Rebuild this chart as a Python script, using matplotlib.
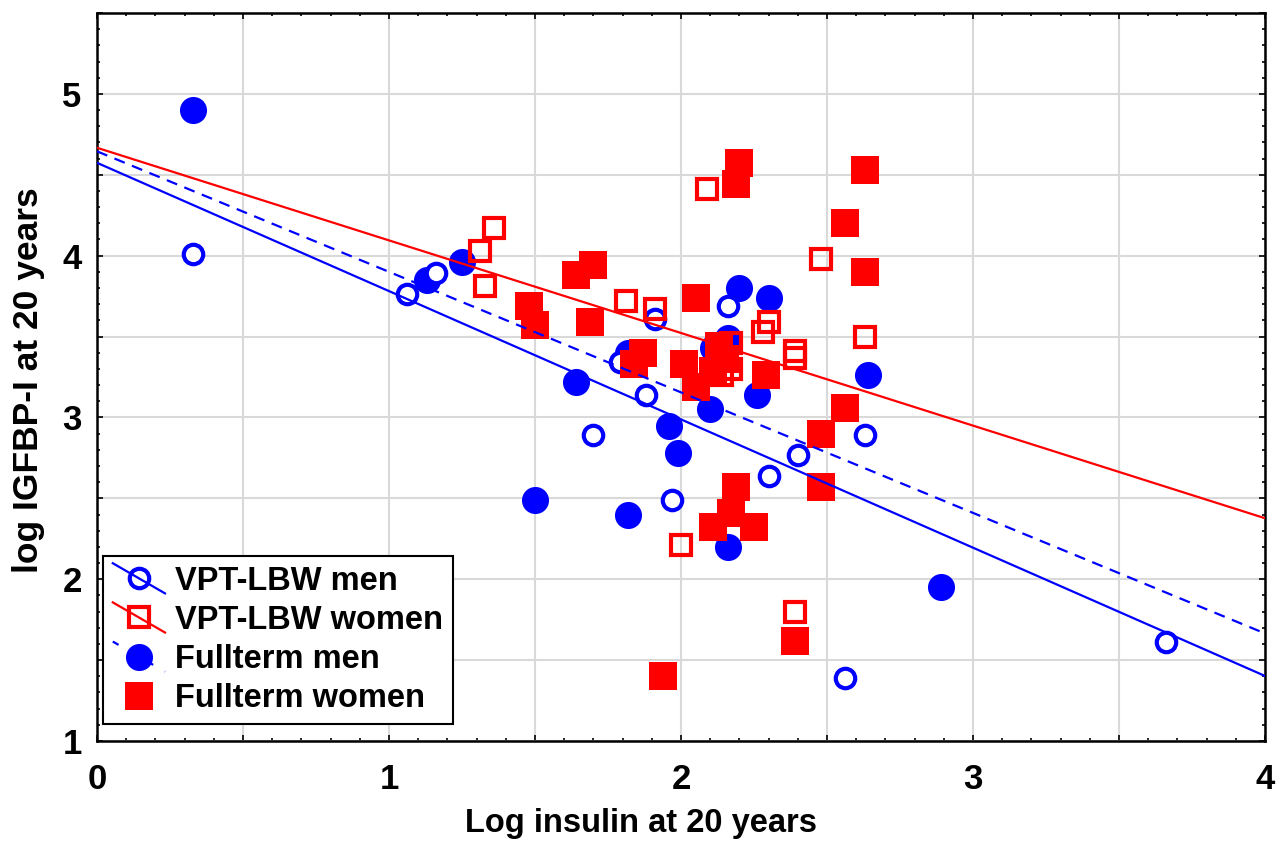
import matplotlib
matplotlib.use('Agg')
import matplotlib.pyplot as plt
from matplotlib.lines import Line2D
from matplotlib.legend_handler import HandlerLine2D
from matplotlib.ticker import MultipleLocator, FuncFormatter
import numpy as np

plt.rcParams['font.family'] = ['Liberation Sans', 'DejaVu Sans']
plt.rcParams['font.weight'] = 'bold'

BLUE = '#0000ff'
RED = '#ff0000'

# VPT-LBW men (open circles)
vpt_men_x = [0.33, 1.06, 1.16, 1.91, 2.16, 1.70, 1.88, 1.97, 2.30, 2.40, 2.63, 2.56, 3.66, 1.79]
vpt_men_y = [4.01, 3.76, 3.89, 3.61, 3.69, 2.89, 3.14, 2.49, 2.64, 2.77, 2.89, 1.39, 1.61, 3.34]

# VPT-LBW women (open squares)
vpt_women_x = [1.31, 1.36, 1.33, 1.81, 1.91, 2.09, 2.48, 2.63, 2.30, 2.28, 2.39, 2.39,
               2.17, 2.17, 2.14, 2.00, 2.39]
vpt_women_y = [4.03, 4.17, 3.81, 3.72, 3.67, 4.41, 3.98, 3.50, 3.59, 3.53, 3.41, 3.37,
               3.46, 3.30, 3.26, 2.21, 1.80]

# Fullterm men (filled circles)
full_men_x = [0.33, 1.13, 1.25, 1.64, 1.50, 1.82, 1.96, 1.99, 2.10, 2.16, 2.20, 2.30,
              2.26, 2.64, 2.89, 1.82, 2.11, 2.16]
full_men_y = [4.90, 3.85, 3.96, 3.22, 2.49, 2.40, 2.95, 2.78, 3.05, 2.20, 3.80, 3.74,
              3.14, 3.26, 1.95, 3.40, 3.43, 3.49]

# Fullterm women (filled squares)
full_women_x = [1.48, 1.50, 1.64, 1.70, 1.69, 2.05, 2.20, 2.19, 2.63, 2.56, 2.63, 1.87,
                1.84, 2.01, 2.05, 2.13, 2.15, 2.11, 2.29, 2.48, 2.56, 2.48, 2.19, 2.17,
                2.11, 2.25, 1.94, 2.39]
full_women_y = [3.69, 3.57, 3.88, 3.94, 3.59, 3.74, 4.57, 4.44, 4.53, 4.20, 3.90, 3.40,
                3.33, 3.33, 3.19, 3.44, 3.36, 3.29, 3.26, 2.90, 3.06, 2.57, 2.57, 2.41,
                2.32, 2.32, 1.40, 1.62]

# regression lines (intercept, slope)
fit_vpt_men = (4.574, -0.793)
fit_vpt_women = (4.667, -0.5725)
fit_full_men = (4.645, -0.745)

x_range = [0, 4]

labels = ['VPT-LBW men', 'VPT-LBW women', 'Fullterm men', 'Fullterm women']


class DiagonalHandler(HandlerLine2D):
    """Legend handle with the fit line drawn diagonally through the marker"""

    def create_artists(self, legend, orig_handle, xdescent, ydescent,
                       width, height, fontsize, trans):
        x0 = -xdescent
        x1 = -xdescent + width
        yc = -ydescent + height / 2
        half = height * 0.66
        line = Line2D([x0, x1], [yc + half, yc - half])
        self.update_prop(line, orig_handle, legend)
        line.set_marker('None')
        mark = Line2D([(x0 + x1) / 2], [yc])
        self.update_prop(mark, orig_handle, legend)
        mark.set_linestyle('None')
        line.set_transform(trans)
        mark.set_transform(trans)
        return [line, mark]


fig = plt.figure(figsize=(12.76, 8.44), dpi=100)
ax = fig.add_axes([97 / 1276, 1 - 741 / 844, (1265 - 97) / 1276, (741 - 13) / 844])

ax.plot(full_men_x, full_men_y, 'o', color=BLUE, ms=19.5, mew=0, zorder=3)
ax.plot(vpt_men_x, vpt_men_y, 'o', mfc='white', mec=BLUE, ms=14, mew=3, zorder=4)
ax.plot(full_women_x, full_women_y, 's', color=RED, ms=19.5, mew=0, zorder=5)
ax.plot(vpt_women_x, vpt_women_y, 's', mfc='none', mec=RED, ms=14, mew=3, zorder=6)

xs = np.array(x_range)
ax.plot(xs, fit_vpt_men[0] + fit_vpt_men[1] * xs, color=BLUE, lw=1.6, zorder=7)
ax.plot(xs, fit_vpt_women[0] + fit_vpt_women[1] * xs, color=RED, lw=1.6, zorder=7)
ax.plot(xs, fit_full_men[0] + fit_full_men[1] * xs, color=BLUE, lw=1.6,
        linestyle=(0, (5, 3.5)), zorder=7)

ax.set_xlim(0, 4)
ax.set_ylim(1, 5.5)
ax.xaxis.set_major_locator(MultipleLocator(0.5))
ax.yaxis.set_major_locator(MultipleLocator(0.5))
ax.xaxis.set_minor_locator(MultipleLocator(0.1))
ax.yaxis.set_minor_locator(MultipleLocator(0.1))
int_only = FuncFormatter(lambda v, p: f'{v:.0f}' if abs(v - round(v)) < 1e-6 else '')
ax.xaxis.set_major_formatter(int_only)
ax.yaxis.set_major_formatter(int_only)
ax.grid(True, which='major', color='#d9d9d9', lw=1.5, zorder=0)
ax.set_axisbelow(True)

ax.tick_params(which='both', direction='in', top=True, right=True, width=1.2)
ax.tick_params(which='major', length=4.5, labelsize=25)
ax.tick_params(which='minor', length=2.5)
ax.tick_params(axis='x', pad=15.5)
ax.tick_params(axis='y', pad=11)
for sp in ax.spines.values():
    sp.set_linewidth(1.8)

fig.text(641 / 1276, 12 / 844, 'Log insulin at 20 years', ha='center', va='baseline',
         fontsize=23.5, fontweight='bold')
fig.text(29 / 1276, 1 - 380 / 844, 'log IGFBP-I at 20 years', rotation=90,
         ha='center', va='center', fontsize=25.5, fontweight='bold')

handles = [
    Line2D([], [], color=BLUE, lw=1.6, marker='o', mfc='none', mec=BLUE, ms=14, mew=3),
    Line2D([], [], color=RED, lw=1.6, marker='s', mfc='none', mec=RED, ms=14, mew=3),
    Line2D([], [], color=BLUE, lw=1.6, linestyle=(0, (3, 6)),
           marker='o', mfc=BLUE, mec=BLUE, ms=19.5, mew=0),
    Line2D([], [], linestyle='None', marker='s', mfc=RED, mec=RED, ms=19.5, mew=0),
]
leg = ax.legend(handles, labels, loc='lower left', bbox_to_anchor=(6 / 1168, 17 / 728),
                handler_map={h: DiagonalHandler() for h in handles},
                fontsize=23.5, frameon=True, fancybox=False, framealpha=1,
                edgecolor='black', borderpad=0.3, labelspacing=0.25,
                handlelength=1.6, handletextpad=0.3, borderaxespad=0)
leg.get_frame().set_linewidth(1.5)
leg.set_zorder(10)

fig.savefig('out.png', dpi=100, facecolor='white')
